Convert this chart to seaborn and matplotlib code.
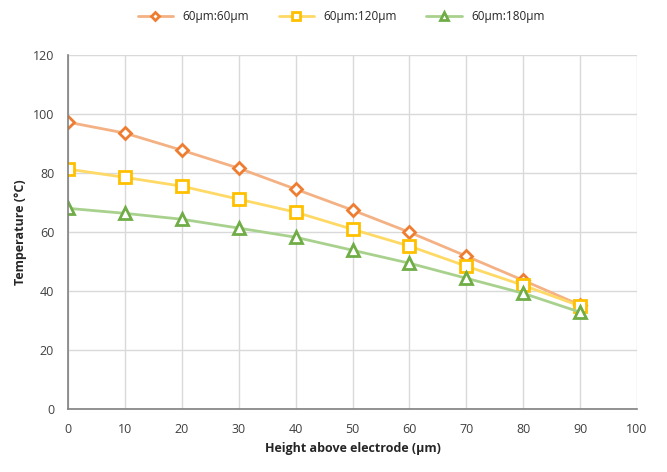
import matplotlib
matplotlib.use('Agg')
import matplotlib.pyplot as plt
import seaborn as sns
import pandas as pd

height = [0, 10, 20, 30, 40, 50, 60, 70, 80, 90]
temp_60 = [97.3, 93.6, 87.8, 81.7, 74.6, 67.5, 60.0, 51.9, 43.7, 35.3]
temp_120 = [81.4, 78.6, 75.6, 71.2, 66.8, 61.0, 55.3, 48.5, 42.0, 35.0]
temp_180 = [68.1, 66.4, 64.4, 61.4, 58.3, 53.9, 49.5, 44.4, 39.3, 32.9]
labels = ['60µm:60µm', '60µm:120µm', '60µm:180µm']

sns.set_theme(style="whitegrid")
plt.rcParams['font.family'] = ['Open Sans', 'DejaVu Sans']

fig, ax = plt.subplots(figsize=(6.67, 4.72), dpi=100)
fig.subplots_adjust(left=0.102, right=0.955, top=0.883, bottom=0.133)

styles = [
    (temp_60, '#F4B183', '#ED7D31', 'D', 6),
    (temp_120, '#FFD966', '#FFC000', 's', 8),
    (temp_180, '#A9D18E', '#70AD47', '^', 8),
]
for (vals, lc, mc, mk, ms), lab in zip(styles, labels):
    df = pd.DataFrame({'h': height, 't': vals})
    sns.lineplot(data=df, x='h', y='t', ax=ax, color=lc, linewidth=2,
                 marker=mk, markersize=ms, markerfacecolor='white',
                 markeredgecolor=mc, markeredgewidth=2, label=lab)

ax.set_xlim(0, 100)
ax.set_ylim(0, 120)
ax.set_xticks(range(0, 101, 10))
ax.set_yticks(range(0, 121, 20))
ax.tick_params(labelsize=9, colors='#404040', pad=4)
ax.grid(color='#D9D9D9', linewidth=1)
for s in ['top', 'right']:
    ax.spines[s].set_visible(False)
for s in ['left', 'bottom']:
    ax.spines[s].set_color('#808080')
    ax.spines[s].set_linewidth(1.2)
ax.set_xlabel('Height above electrode (µm)', fontsize=9, fontweight='bold', color='#262626')
ax.set_ylabel('Temperature (°C)', fontsize=9, fontweight='bold', color='#262626')
ax.legend(loc='lower center', bbox_to_anchor=(0.48, 1.06), ncol=3, frameon=False,
          fontsize=8.5, handlelength=3, columnspacing=2.5, markerscale=0.7)

plt.savefig('out.png')
